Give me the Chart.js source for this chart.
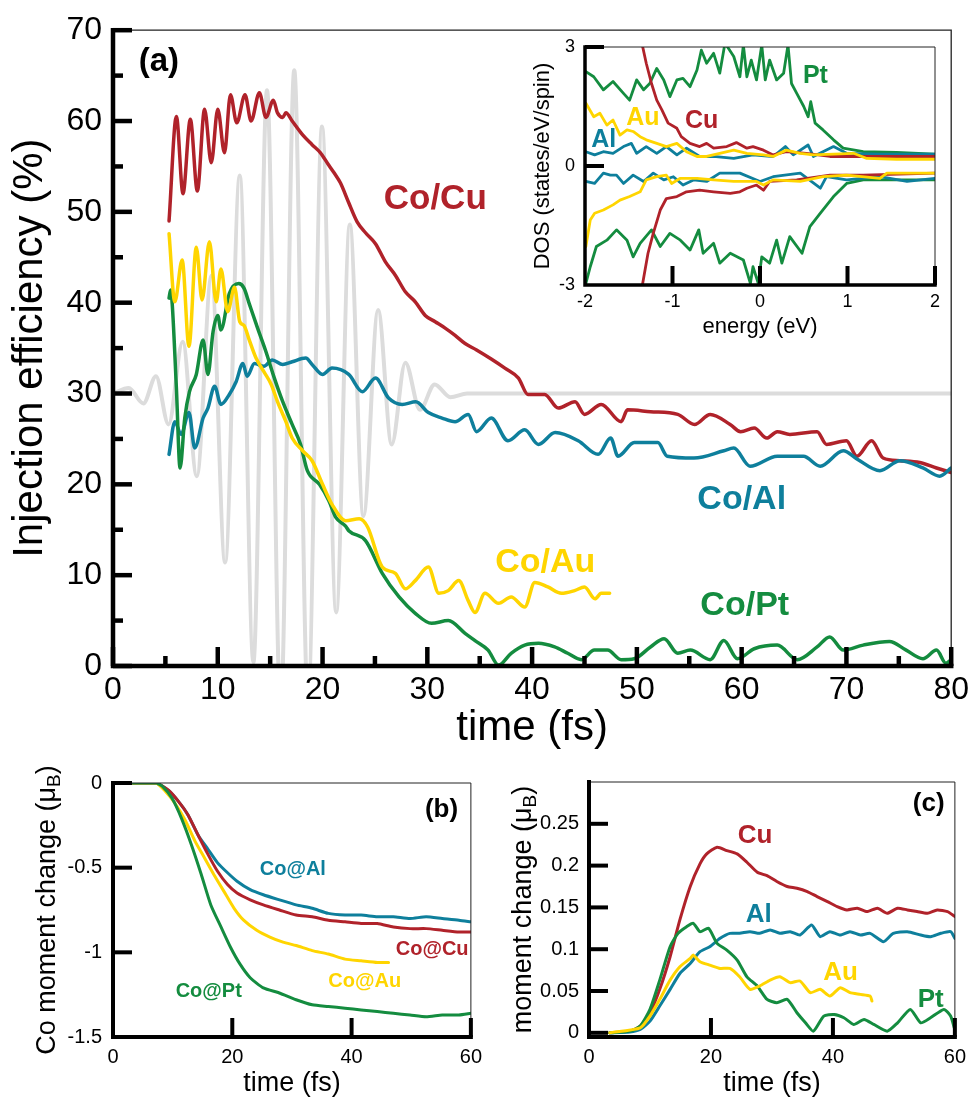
<!DOCTYPE html>
<html><head><meta charset="utf-8">
<script src="https://cdn.jsdelivr.net/npm/chart.js@4.4.1/dist/chart.umd.min.js"></script>
<style>
html,body{margin:0;padding:0;background:#fff;}
#wrap{position:relative;width:974px;height:1100px;overflow:hidden;background:#fff;}
canvas{position:absolute;}
</style></head><body>
<div id="wrap">
<canvas id="cMain" width="974" height="760" style="left:0;top:0;"></canvas>
<canvas id="cInset" width="450" height="345" style="left:520px;top:0;"></canvas>
<canvas id="cB" width="490" height="340" style="left:0;top:760px;"></canvas>
<canvas id="cC" width="484" height="340" style="left:490px;top:760px;"></canvas>
</div>
<script>
// ---------------- DATA: panel (a) ----------------
const pulseT = [0, 1.5, 2.9, 4.1, 5.3, 6.65, 8.0, 9.4, 10.7, 12.1, 13.4, 14.7, 16.0, 17.3, 18.6, 19.95, 21.3, 22.6, 23.9, 25.3, 26.6, 27.9, 29.3, 30.7, 32.2, 33.8, 80];
const pulseV = [30, 30.6, 28.9, 31.9, 26.6, 35.7, 20.9, 43, 11.4, 54.0, 0.4, 63.4, -5, 65.6, -4, 59.4, 5.9, 48.6, 16.5, 39.2, 24.4, 33.4, 28.2, 31.0, 29.6, 30, 30];

const cuT = [5.35, 6.05, 6.68, 7.38, 8.05, 8.74, 9.38, 10.0, 10.64, 11.21, 11.81, 12.6, 13.18, 13.97, 14.6, 15.3, 15.7, 16.2, 16.5, 17.1, 18.08, 19.0, 19.8, 20.5, 21.1, 21.7, 22.5, 23.3, 24.1, 25.05, 26.0, 26.96, 27.9, 28.85, 29.8, 30.75, 31.7, 32.65, 33.6, 34.7, 36.1, 37.4, 38.7, 39.6, 41.2, 42.5, 44.1, 45.0, 46.6, 48.5, 49.1, 51.3, 53.9, 55.5, 57.0, 58.9, 59.9, 61.2, 62.4, 63.4, 64.6, 67.2, 68.1, 70.0, 71.0, 72.4, 73.5, 75.1, 77.0, 78.6, 80];
const cuV = [49.0, 60.5, 52.0, 60.2, 52.3, 61.3, 55.4, 61.3, 56.5, 62.9, 59.8, 62.9, 60.0, 63.1, 60.4, 62.3, 60.9, 60.4, 60.9, 60.0, 58.5, 57.4, 56.5, 55.3, 54.3, 53.2, 51.0, 48.9, 47.7, 46.5, 44.5, 43.0, 41.2, 40.1, 38.6, 37.9, 37.2, 36.4, 35.5, 34.8, 33.8, 32.8, 31.7, 29.9, 29.9, 28.4, 29.1, 27.7, 28.8, 26.9, 28.2, 28.0, 27.7, 26.6, 27.7, 26.6, 25.8, 26.2, 25.1, 25.8, 25.5, 25.8, 24.4, 24.8, 23.1, 24.8, 22.9, 22.6, 22.4, 21.8, 21.3];

const alT = [5.35, 5.9, 6.5, 7.25, 7.8, 8.6, 9.06, 9.7, 10.3, 11.1, 11.75, 12.4, 12.8, 13.5, 14.4, 15.2, 16.2, 17.1, 18.4, 19.0, 20.0, 20.9, 22.5, 23.8, 25.05, 26.3, 27.6, 28.9, 30.1, 31.4, 32.65, 33.9, 34.7, 36.1, 37.7, 39.3, 40.6, 42.2, 44.4, 46.3, 47.5, 48.2, 49.75, 52.0, 52.9, 55.45, 58.3, 59.25, 60.8, 63.4, 65.9, 67.5, 69.7, 71.0, 73.2, 75.1, 77.3, 78.9, 80];
const alV = [23.3, 26.9, 25.5, 27.9, 24.0, 27.3, 28.4, 30.8, 28.8, 29.9, 31.3, 33.3, 31.9, 33.3, 33.0, 33.7, 33.2, 33.5, 33.9, 33.2, 32.1, 32.8, 32.1, 30.2, 31.7, 29.5, 28.8, 29.1, 27.9, 27.3, 26.9, 27.7, 25.8, 27.3, 24.8, 26.0, 24.4, 25.7, 24.8, 23.3, 25.1, 23.1, 24.6, 24.6, 23.1, 22.9, 23.7, 24.0, 22.0, 23.1, 23.1, 22.0, 23.7, 22.8, 21.5, 22.6, 21.8, 20.9, 21.8];

const auT = [5.35, 5.9, 6.6, 7.25, 7.95, 8.5, 9.2, 9.85, 10.3, 10.95, 11.6, 12.1, 12.5, 13.0, 13.65, 14.4, 15.1, 15.7, 16.5, 17.1, 18.1, 19.0, 20.0, 20.9, 22.2, 23.5, 24.3, 25.7, 26.95, 27.9, 28.85, 30.1, 31.1, 32.0, 33.0, 33.9, 34.55, 35.5, 36.8, 38.0, 39.3, 40.25, 41.5, 42.8, 44.05, 45.0, 46.0, 46.6, 47.4];
const auV = [47.6, 40.1, 44.7, 35.2, 46.1, 40.3, 46.7, 40.1, 43.7, 39.0, 41.7, 37.9, 37.5, 35.9, 33.9, 32.4, 31.0, 29.1, 26.9, 25.1, 23.7, 22.6, 20.0, 17.8, 16.0, 16.2, 15.3, 10.9, 10.2, 8.5, 9.4, 10.9, 8.0, 8.3, 9.4, 7.2, 5.9, 8.0, 6.9, 7.6, 6.5, 9.2, 8.7, 8.0, 8.3, 8.7, 7.4, 8.0, 8.0];

const ptT = [5.35, 5.5, 5.65, 6.05, 6.4, 6.85, 7.3, 7.95, 8.6, 9.06, 9.55, 10.0, 10.3, 11.1, 12.0, 12.5, 13.0, 13.8, 14.6, 15.4, 16.2, 17.1, 17.9, 18.55, 19.7, 20.6, 21.25, 22.2, 22.5, 24.1, 25.7, 27.3, 28.85, 30.4, 32.0, 33.6, 34.55, 35.8, 36.8, 38.0, 39.3, 40.6, 42.15, 43.4, 44.7, 45.95, 47.2, 48.5, 49.75, 51.3, 52.6, 53.9, 55.1, 57.0, 58.3, 59.6, 61.2, 63.4, 65.3, 67.2, 68.4, 69.7, 71.6, 74.1, 75.7, 77.3, 78.6, 79.5, 80];
const ptV = [40.5, 41.4, 39.9, 30.6, 21.8, 27.3, 30.2, 32.1, 35.9, 32.1, 36.8, 38.6, 37.0, 41.0, 42.1, 41.6, 39.9, 37.2, 34.6, 31.7, 29.1, 26.6, 24.4, 21.5, 20.0, 18.2, 16.4, 15.4, 14.9, 13.8, 10.2, 7.6, 5.8, 4.7, 5.0, 3.6, 2.8, 1.75, 0.1, 1.4, 2.3, 2.5, 2.1, 1.4, 0.7, 1.75, 1.75, 0.7, 0.8, 2.1, 3.0, 1.4, 1.75, 0.7, 2.8, 0.8, 1.9, 2.3, 0.7, 2.1, 3.2, 1.75, 2.3, 2.7, 1.75, 0.8, 1.75, 0.3, 0.7];

const mainXTicks = [0, 10, 20, 30, 40, 50, 60, 70, 80];
const mainXMinor = [5, 15, 25, 35, 45, 55, 65, 75];
const mainYTicks = [0, 10, 20, 30, 40, 50, 60, 70];
const mainYMinor = [5, 15, 25, 35, 45, 55, 65];

// ---------------- DATA: inset DOS ----------------
const ptUpE = [-1.99,-1.9,-1.79,-1.68,-1.56,-1.49,-1.41,-1.33,-1.26,-1.18,-1.10,-1.03,-0.95,-0.88,-0.80,-0.72,-0.67,-0.61,-0.53,-0.46,-0.40,-0.30,-0.23,-0.19,-0.15,-0.10,-0.04,0.02,0.06,0.11,0.19,0.27,0.32,0.36,0.42,0.50,0.55,0.58,0.63,0.72,0.84,0.95,1.18,1.56,2.0];
const ptUpV = [2.38,2.25,1.92,2.13,1.83,1.66,2.17,1.92,2.08,2.46,2.17,1.75,2.17,2.21,2.0,2.42,2.92,2.59,2.84,2.34,3.1,2.76,2.25,3.05,2.25,2.67,2.17,3.05,2.17,2.67,2.17,2.34,3.05,2.08,1.83,1.5,1.24,1.62,1.08,0.91,0.66,0.45,0.36,0.34,0.30];
const cuUpE = [-1.36,-1.30,-1.24,-1.18,-1.12,-1.05,-0.95,-0.90,-0.80,-0.69,-0.61,-0.53,-0.38,-0.27,-0.15,-0.08,0.04,0.15,0.30,0.53,0.80,1.18,2.0];
const cuUpV = [3.2,2.59,2.08,1.66,1.41,1.08,0.95,0.74,0.57,0.49,0.57,0.45,0.49,0.59,0.45,0.49,0.40,0.28,0.36,0.32,0.24,0.24,0.24];
const auUpE = [-1.99,-1.9,-1.83,-1.75,-1.68,-1.6,-1.52,-1.45,-1.37,-1.30,-1.18,-1.07,-0.95,-0.84,-0.72,-0.61,-0.46,-0.30,-0.15,0.04,0.15,0.30,0.46,0.61,0.84,1.07,1.22,1.56,2.0];
const auUpV = [1.58,1.24,1.33,1.03,1.16,0.78,0.91,0.87,0.74,0.66,0.57,0.49,0.57,0.36,0.24,0.24,0.32,0.40,0.32,0.28,0.24,0.40,0.32,0.28,0.30,0.32,0.19,0.17,0.17];
const alUpE = [-1.99,-1.89,-1.79,-1.68,-1.56,-1.47,-1.41,-1.30,-1.18,-1.07,-0.95,-0.84,-0.69,-0.53,-0.30,-0.08,0.15,0.29,0.38,0.55,0.61,0.84,0.99,1.37,2.0];
const alUpV = [0.36,0.28,0.36,0.32,0.49,0.57,0.32,0.49,0.32,0.49,0.28,0.45,0.24,0.24,0.19,0.28,0.24,0.49,0.28,0.53,0.24,0.49,0.32,0.30,0.30];
const alDnE = [-1.99,-1.89,-1.79,-1.71,-1.64,-1.56,-1.45,-1.33,-1.22,-1.10,-0.99,-0.88,-0.76,-0.61,-0.46,-0.23,0.0,0.15,0.46,0.69,0.76,0.99,1.37,1.68,2.0];
const alDnV = [-0.39,-0.44,-0.18,-0.23,-0.23,-0.44,-0.23,-0.39,-0.18,-0.35,-0.27,-0.48,-0.35,-0.39,-0.18,-0.18,-0.39,-0.27,-0.18,-0.56,-0.27,-0.35,-0.27,-0.39,-0.31];
const auDnE = [-1.99,-1.94,-1.89,-1.79,-1.68,-1.6,-1.49,-1.37,-1.30,-1.18,-1.07,-1.01,-0.91,-0.72,-0.53,-0.30,-0.04,0.04,0.15,0.46,0.72,0.99,1.37,1.45,2.0];
const auDnV = [-2.03,-1.36,-1.19,-1.11,-0.98,-0.86,-0.77,-0.65,-0.35,-0.27,-0.23,-0.44,-0.31,-0.31,-0.35,-0.39,-0.39,-0.48,-0.35,-0.39,-0.27,-0.23,-0.31,-0.18,-0.18];
const cuDnE = [-1.36,-1.28,-1.22,-1.14,-1.07,-0.95,-0.84,-0.69,-0.53,-0.34,-0.23,-0.15,-0.04,0.04,0.11,0.42,0.80,1.18,2.0];
const cuDnV = [-3.2,-2.2,-1.70,-1.11,-0.82,-0.77,-0.65,-0.61,-0.65,-0.69,-0.65,-0.56,-0.48,-0.61,-0.39,-0.35,-0.23,-0.23,-0.18];
const ptDnE = [-1.99,-1.94,-1.87,-1.75,-1.64,-1.52,-1.45,-1.37,-1.24,-1.14,-1.03,-0.91,-0.80,-0.70,-0.65,-0.53,-0.46,-0.34,-0.19,-0.11,-0.08,-0.02,0.02,0.11,0.19,0.25,0.34,0.48,0.57,0.69,0.84,0.99,1.18,1.56,2.0];
const ptDnV = [-2.96,-2.54,-2.03,-1.87,-1.61,-1.87,-2.29,-1.95,-1.61,-2.03,-1.70,-1.87,-2.12,-1.61,-2.2,-1.95,-2.45,-2.2,-2.37,-2.96,-2.54,-2.96,-2.29,-2.45,-1.87,-2.45,-1.78,-2.2,-1.53,-1.19,-0.77,-0.44,-0.35,-0.35,-0.35];
const insetXTicks = [-2, -1, 0, 1, 2];
const insetYTicks = [-3, 0, 3];

// ---------------- DATA: panel (b) ----------------
const bAlT = [0, 3.3, 7.2, 9.3, 11.0, 12.6, 14.3, 15.9, 17.5, 19.2, 20.8, 23.0, 25.2, 27.9, 30.7, 33.4, 36.1, 38.9, 41.6, 44.3, 47.0, 49.8, 52.5, 55.2, 58.0, 60];
const bAlV = [0, 0, 0, -0.045, -0.11, -0.19, -0.31, -0.39, -0.47, -0.53, -0.58, -0.63, -0.66, -0.69, -0.72, -0.74, -0.77, -0.78, -0.78, -0.79, -0.79, -0.80, -0.79, -0.80, -0.81, -0.82];
const bCuT = [0, 7.2, 9.3, 11.0, 12.6, 14.3, 15.9, 17.5, 19.2, 20.8, 23.0, 25.2, 27.9, 30.7, 33.4, 36.1, 38.9, 41.6, 44.3, 47.0, 49.8, 52.5, 55.2, 58.0, 60];
const bCuV = [0, 0, -0.043, -0.11, -0.19, -0.31, -0.42, -0.52, -0.60, -0.65, -0.69, -0.72, -0.75, -0.78, -0.79, -0.81, -0.82, -0.83, -0.83, -0.85, -0.86, -0.86, -0.87, -0.88, -0.88];
const bAuT = [0, 7.2, 8.8, 10.4, 12.1, 13.7, 15.3, 16.9, 18.6, 20.3, 21.9, 24.1, 26.3, 28.5, 30.7, 33.4, 36.1, 38.9, 41.6, 44.3, 46.2];
const bAuV = [0, 0, -0.05, -0.12, -0.22, -0.34, -0.44, -0.54, -0.64, -0.74, -0.81, -0.87, -0.91, -0.94, -0.96, -0.99, -1.01, -1.04, -1.05, -1.06, -1.06];
const bPtT = [0, 7.2, 8.3, 9.9, 11.5, 13.2, 14.8, 16.4, 18.1, 19.7, 21.3, 23.0, 25.2, 27.9, 30.7, 33.4, 36.1, 38.9, 41.6, 44.3, 47.0, 49.8, 52.5, 55.2, 58.0, 60];
const bPtV = [0, 0, -0.02, -0.09, -0.21, -0.37, -0.54, -0.72, -0.85, -0.97, -1.07, -1.15, -1.21, -1.24, -1.28, -1.31, -1.32, -1.33, -1.34, -1.35, -1.36, -1.37, -1.38, -1.37, -1.37, -1.36];
const bXTicks = [0, 20, 40, 60];
const bYTicks = [0, -0.5, -1, -1.5];

// ---------------- DATA: panel (c) ----------------
const cCuT = [3.4, 6.7, 8.4, 10.0, 11.6, 13.3, 14.9, 16.6, 18.2, 19.3, 21.0, 22.6, 24.3, 25.9, 27.6, 29.2, 30.8, 32.5, 34.1, 35.8, 37.4, 39.1, 40.7, 42.3, 44.0, 45.6, 47.3, 48.9, 50.6, 52.2, 53.8, 55.5, 57.1, 58.8, 60];
const cCuV = [0, 0.002, 0.008, 0.024, 0.052, 0.091, 0.135, 0.175, 0.202, 0.214, 0.222, 0.218, 0.214, 0.204, 0.192, 0.188, 0.181, 0.175, 0.173, 0.169, 0.163, 0.157, 0.151, 0.147, 0.149, 0.145, 0.149, 0.143, 0.149, 0.147, 0.145, 0.143, 0.147, 0.145, 0.139];
const cAlT = [3.4, 6.7, 8.4, 10.0, 11.6, 13.3, 14.9, 16.6, 18.2, 19.8, 21.5, 23.1, 24.7, 26.4, 28.0, 29.7, 31.3, 33.0, 34.6, 36.5, 37.9, 39.5, 41.2, 42.8, 44.5, 46.1, 48.3, 49.9, 52.2, 54.4, 56.0, 57.7, 59.3, 60];
const cAlV = [0, 0.001, 0.004, 0.014, 0.032, 0.052, 0.071, 0.083, 0.097, 0.103, 0.113, 0.119, 0.119, 0.121, 0.119, 0.123, 0.119, 0.121, 0.117, 0.129, 0.115, 0.121, 0.117, 0.121, 0.117, 0.119, 0.109, 0.119, 0.121, 0.117, 0.115, 0.119, 0.121, 0.113];
const cPtT = [3.4, 6.7, 8.4, 10.0, 11.6, 13.3, 14.6, 16.0, 17.1, 18.2, 19.6, 21.0, 22.6, 24.3, 25.9, 27.6, 29.2, 30.8, 32.5, 34.1, 35.5, 36.8, 38.5, 40.2, 41.8, 43.4, 45.1, 46.7, 48.9, 50.6, 52.7, 54.4, 56.0, 58.2, 59.3, 59.9];
const cPtV = [0, 0.002, 0.008, 0.028, 0.063, 0.103, 0.119, 0.127, 0.131, 0.121, 0.125, 0.107, 0.099, 0.087, 0.067, 0.056, 0.040, 0.036, 0.040, 0.024, 0.012, 0.002, 0.020, 0.022, 0.018, 0.010, 0.016, 0.010, 0.002, 0.012, 0.028, 0.012, 0.018, 0.028, 0.020, 0.006];
const cAuT = [3.4, 8.4, 10.0, 11.6, 13.3, 14.9, 16.6, 17.1, 18.2, 19.8, 21.5, 23.1, 24.7, 26.4, 28.0, 29.7, 31.3, 33.0, 34.6, 36.3, 37.9, 39.5, 41.2, 42.8, 44.5, 46.1, 46.4];
const cAuV = [0, 0.006, 0.020, 0.040, 0.063, 0.079, 0.089, 0.093, 0.085, 0.081, 0.077, 0.077, 0.067, 0.052, 0.056, 0.063, 0.067, 0.060, 0.062, 0.048, 0.052, 0.044, 0.054, 0.048, 0.046, 0.044, 0.038];
const cXTicks = [0, 20, 40, 60];
const cYTicks = [0, 0.05, 0.1, 0.15, 0.2, 0.25];

// ---------------- STYLE ----------------
const FONT = '"Liberation Sans", Arial, Helvetica, sans-serif';
const RED = '#b0222a', BLUE = '#0e7f9c', YEL = '#ffd500', GRN = '#148c3f', GRAY = '#dcdcdc';

function pts(xs, ys) { return xs.map((x, i) => ({x: x, y: ys[i]})); }
function ds(xs, ys, color, width, extra) {
  return Object.assign({data: pts(xs, ys), borderColor: color, borderWidth: width, pointRadius: 0,
    fill: false, tension: 0, borderJoinStyle: 'round', borderCapStyle: 'round'}, extra || {});
}
const fmt = v => String(+(+v).toFixed(4));

const framePlugin = {
  id: 'frame',
  afterDatasetsDraw(chart, args, o) {
    const ctx = chart.ctx, a = chart.chartArea, xs = chart.scales.x, ys = chart.scales.y;
    ctx.save();
    ctx.strokeStyle = '#222'; ctx.lineWidth = o.thin;
    ctx.beginPath(); ctx.moveTo(a.left, a.top); ctx.lineTo(a.right, a.top); ctx.lineTo(a.right, a.bottom); ctx.stroke();
    ctx.strokeStyle = '#000'; ctx.lineWidth = o.tickWidth; ctx.lineCap = 'butt';
    const seg = (x1, y1, x2, y2) => { ctx.beginPath(); ctx.moveTo(x1, y1); ctx.lineTo(x2, y2); ctx.stroke(); };
    (o.xMajor || []).forEach(v => { const p = xs.getPixelForValue(v); seg(p, a.bottom, p, a.bottom - o.major); });
    (o.xMinor || []).forEach(v => { const p = xs.getPixelForValue(v); seg(p, a.bottom, p, a.bottom - o.minor); });
    (o.yMajor || []).forEach(v => { const p = ys.getPixelForValue(v); seg(a.left, p, a.left + o.major, p); });
    (o.yMinor || []).forEach(v => { const p = ys.getPixelForValue(v); seg(a.left, p, a.left + o.minor, p); });
    ctx.lineWidth = o.thick; ctx.lineCap = 'square';
    ctx.beginPath(); ctx.moveTo(a.left, a.top); ctx.lineTo(a.left, a.bottom); ctx.lineTo(a.right, a.bottom); ctx.stroke();
    ctx.restore();
  }
};
const notesPlugin = {
  id: 'notes',
  afterDatasetsDraw(chart, args, o) {
    const ctx = chart.ctx, xs = chart.scales.x, ys = chart.scales.y;
    ctx.save();
    ctx.textAlign = 'left'; ctx.textBaseline = 'alphabetic';
    (o.items || []).forEach(L => {
      ctx.font = 'bold ' + L.size + 'px ' + FONT;
      ctx.fillStyle = L.color;
      ctx.fillText(L.text, xs.getPixelForValue(L.x), ys.getPixelForValue(L.y));
    });
    ctx.restore();
  }
};
const ytitlePlugin = {
  id: 'ytitle',
  afterDraw(chart, args, o) {
    if (!o || !o.main) return;
    const ctx = chart.ctx, a = chart.chartArea;
    ctx.save();
    ctx.translate(o.x, (a.top + a.bottom) / 2);
    ctx.rotate(-Math.PI / 2);
    const f1 = o.size + 'px ' + FONT, f2 = o.subSize + 'px ' + FONT;
    ctx.font = f1; const w1 = ctx.measureText(o.main).width, w3 = ctx.measureText(o.close).width;
    ctx.font = f2; const w2 = ctx.measureText(o.sub).width;
    let x = -(w1 + w2 + w3) / 2;
    ctx.textBaseline = 'middle'; ctx.textAlign = 'left'; ctx.fillStyle = '#000';
    ctx.font = f1; ctx.fillText(o.main, x, 0); x += w1;
    ctx.font = f2; ctx.fillText(o.sub, x, o.subDrop); x += w2;
    ctx.font = f1; ctx.fillText(o.close, x, 0);
    ctx.restore();
  }
};

function xAxis(min, max, ticks, o) {
  return {
    type: 'linear', position: 'bottom', min: min, max: max,
    afterBuildTicks: s => { s.ticks = ticks.map(v => ({value: v})); },
    afterFit: s => { s.height = o.height; },
    grid: {display: false, drawTicks: false}, border: {display: false},
    ticks: {font: {family: FONT, size: o.tickSize}, color: '#000', padding: o.tickPad, maxRotation: 0, autoSkip: false, callback: fmt},
    title: o.title ? {display: true, text: o.title, color: '#000', font: {family: FONT, size: o.titleSize}, padding: {top: 0, bottom: o.titlePad}} : {display: false}
  };
}
function yAxis(min, max, ticks, o) {
  return {
    type: 'linear', position: 'left', min: min, max: max,
    afterBuildTicks: s => { s.ticks = ticks.map(v => ({value: v})); },
    afterFit: s => { s.width = o.width; },
    grid: {display: false, drawTicks: false}, border: {display: false},
    ticks: {font: {family: FONT, size: o.tickSize}, color: '#000', padding: o.tickPad, autoSkip: false, callback: fmt},
    title: o.title ? {display: true, text: o.title, color: '#000', font: {family: FONT, size: o.titleSize}, padding: {top: o.titlePad, bottom: 0}} : {display: false}
  };
}
function make(id, datasets, pad, x, y, plug) {
  return new Chart(document.getElementById(id), {
    type: 'line',
    data: {datasets: datasets},
    options: {
      responsive: false, animation: false, devicePixelRatio: 1,
      layout: {padding: pad},
      plugins: Object.assign({legend: {display: false}, tooltip: {enabled: false}}, plug),
      scales: {x: x, y: y}
    },
    plugins: [framePlugin, notesPlugin, ytitlePlugin]
  });
}

const SMOOTH = {cubicInterpolationMode: 'monotone'};

// ---------------- (a) main ----------------
make('cMain', [
    ds(auT, auV, YEL, 3.5, SMOOTH),
    ds(ptT, ptV, GRN, 3.5, SMOOTH),
    ds(alT, alV, BLUE, 3.5, SMOOTH),
    ds(cuT, cuV, RED, 3.5, SMOOTH),
    ds(pulseT, pulseV, GRAY, 4, SMOOTH)
  ],
  {left: 0, top: 27, right: 19, bottom: 0},
  xAxis(0, 80, mainXTicks, {height: 94, tickSize: 32, tickPad: 5, title: 'time (fs)', titleSize: 42, titlePad: 6}),
  yAxis(0, 70, mainYTicks, {width: 113, tickSize: 32, tickPad: 11, title: 'Injection efficiency (%)', titleSize: 42, titlePad: 5}),
  {
    frame: {thin: 1.3, thick: 4.5, tickWidth: 4.5, major: 19, minor: 10, xMajor: mainXTicks, xMinor: mainXMinor, yMajor: mainYTicks, yMinor: mainYMinor},
    notes: {items: [
      {text: '(a)', x: 2.45, y: 65.5, size: 33, color: '#000'},
      {text: 'Co/Cu', x: 25.84, y: 50.3, size: 35, color: RED},
      {text: 'Co/Al', x: 55.77, y: 17.3, size: 34, color: BLUE},
      {text: 'Co/Au', x: 36.48, y: 10.4, size: 34, color: YEL},
      {text: 'Co/Pt', x: 56.06, y: 5.59, size: 34, color: GRN}
    ]},
    ytitle: {}
  });

// ---------------- inset DOS ----------------
make('cInset', [
    ds(auUpE, auUpV, YEL, 2.8), ds(auDnE, auDnV, YEL, 2.8),
    ds(cuUpE, cuUpV, RED, 2.8), ds(cuDnE, cuDnV, RED, 2.8),
    ds(alUpE, alUpV, BLUE, 2.8), ds(alDnE, alDnV, BLUE, 2.8),
    ds(ptUpE, ptUpV, GRN, 2.8), ds(ptDnE, ptDnV, GRN, 2.8)
  ],
  {left: 0, top: 47, right: 35, bottom: 0},
  xAxis(-2, 2, insetXTicks, {height: 60, tickSize: 18, tickPad: 6, title: 'energy (eV)', titleSize: 22, titlePad: 5}),
  yAxis(-3, 3, insetYTicks, {width: 65, tickSize: 18, tickPad: 10, title: 'DOS (states/eV/spin)', titleSize: 22, titlePad: 10}),
  {
    frame: {thin: 1, thick: 3.5, tickWidth: 4, major: 19, minor: 0, xMajor: [-1, 0, 1, 2], yMajor: [0, 3]},
    notes: {items: [
      {text: 'Pt', x: 0.49, y: 2.09, size: 25, color: GRN},
      {text: 'Cu', x: -0.857, y: 0.96, size: 25, color: RED},
      {text: 'Au', x: -1.53, y: 1.03, size: 25, color: YEL},
      {text: 'Al', x: -1.93, y: 0.48, size: 25, color: BLUE}
    ]},
    ytitle: {}
  });

// ---------------- (b) ----------------
make('cB', [
    ds(bPtT, bPtV, GRN, 3, {tension: 0.2}),
    ds(bAuT, bAuV, YEL, 3, {tension: 0.2}),
    ds(bCuT, bCuV, RED, 3, {tension: 0.2}),
    ds(bAlT, bAlV, BLUE, 3, {tension: 0.2})
  ],
  {left: 0, top: 21, right: 11, bottom: 0},
  xAxis(0, 60, bXTicks, {height: 63, tickSize: 20, tickPad: 8, title: 'time (fs)', titleSize: 27, titlePad: 0}),
  yAxis(-1.5, 0, bYTicks, {width: 113, tickSize: 20, tickPad: 11}),
  {
    frame: {thin: 1, thick: 4, tickWidth: 4, major: 19, minor: 0, xMajor: [20, 40, 60], yMajor: [0, -0.5, -1]},
    notes: {items: [
      {text: '(b)', x: 52.3, y: -0.199, size: 26, color: '#000'},
      {text: 'Co@Al', x: 24.6, y: -0.545, size: 20, color: BLUE},
      {text: 'Co@Cu', x: 47.4, y: -1.013, size: 20, color: RED},
      {text: 'Co@Au', x: 36.1, y: -1.207, size: 20, color: YEL},
      {text: 'Co@Pt', x: 10.5, y: -1.265, size: 20, color: GRN}
    ]},
    ytitle: {main: 'Co moment change (\u03BC', sub: 'B', close: ')', size: 27, subSize: 19, subDrop: 7, x: 47.6}
  });

// ---------------- (c) ----------------
make('cC', [
    ds(cAuT, cAuV, YEL, 3, {tension: 0.2}),
    ds(cPtT, cPtV, GRN, 3, {tension: 0.2}),
    ds(cAlT, cAlV, BLUE, 3, {tension: 0.2}),
    ds(cCuT, cCuV, RED, 3, {tension: 0.2})
  ],
  {left: 0, top: 21, right: 19, bottom: 0},
  xAxis(0, 60, cXTicks, {height: 63, tickSize: 20, tickPad: 8, title: 'time (fs)', titleSize: 27, titlePad: 0}),
  yAxis(-0.005, 0.3, cYTicks, {width: 99, tickSize: 20, tickPad: 10}),
  {
    frame: {thin: 1, thick: 4, tickWidth: 4, major: 19, minor: 0, xMajor: [20, 40, 60], yMajor: cYTicks},
    notes: {items: [
      {text: '(c)', x: 53.1, y: 0.265, size: 26, color: '#000'},
      {text: 'Cu', x: 24.4, y: 0.227, size: 26, color: RED},
      {text: 'Al', x: 25.7, y: 0.133, size: 26, color: BLUE},
      {text: 'Au', x: 38.4, y: 0.063, size: 26, color: YEL},
      {text: 'Pt', x: 53.9, y: 0.031, size: 26, color: GRN}
    ]},
    ytitle: {main: 'moment change (\u03BC', sub: 'B', close: ')', size: 27, subSize: 19, subDrop: 7, x: 33.6}
  });
</script>
</body></html>
